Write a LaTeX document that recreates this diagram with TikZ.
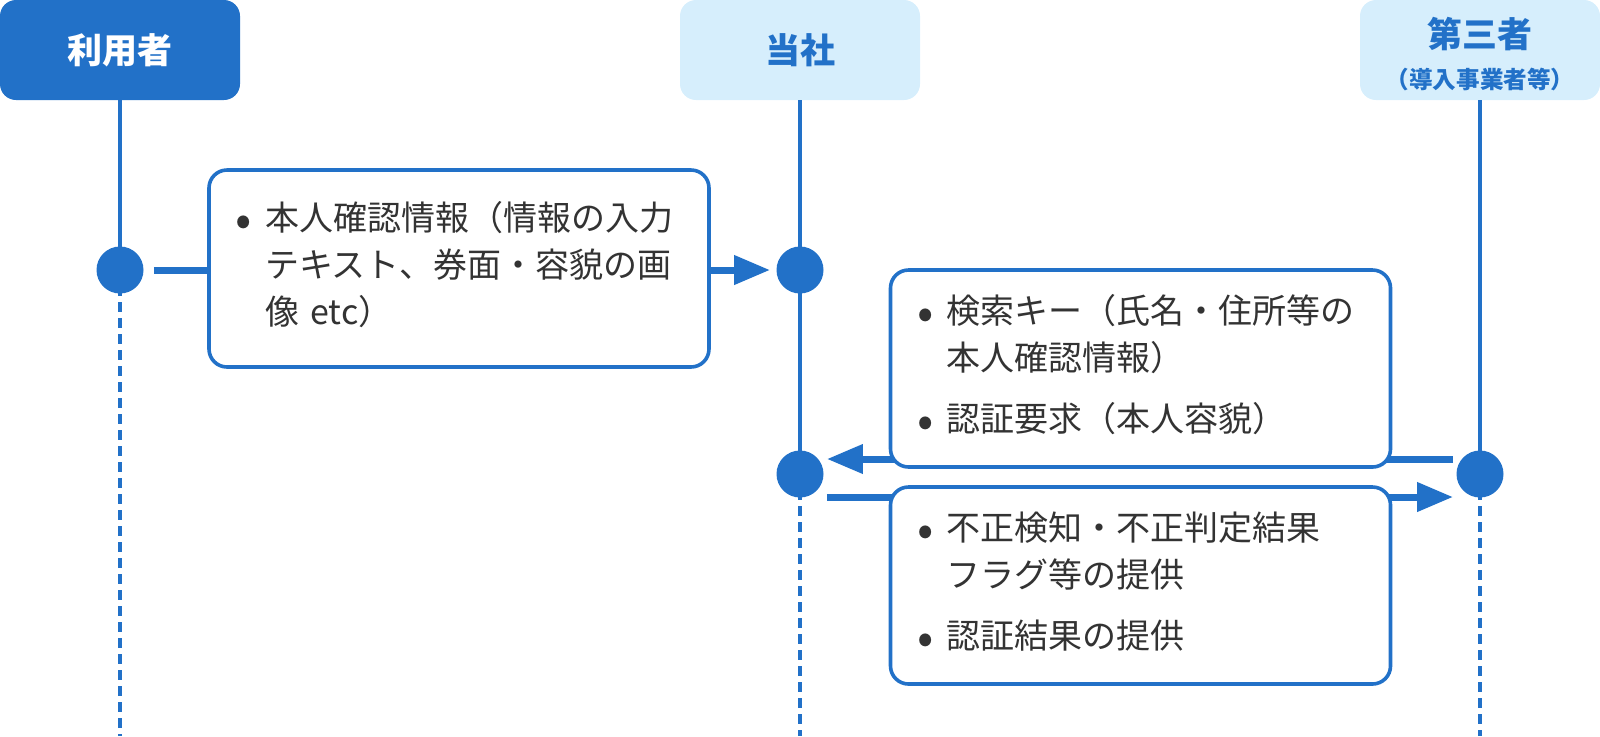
\documentclass[tikz,border=0pt]{standalone}
\usepackage{fontspec}
\setmainfont{Noto Sans CJK JP}
\usetikzlibrary{arrows.meta}

\definecolor{mainblue}{HTML}{2271C8}
\definecolor{paleblue}{HTML}{D6EEFC}
\definecolor{inkgray}{HTML}{333333}

\tikzset{
    actor/.style={rounded corners=8pt, minimum width=120pt, minimum height=50pt,
        inner sep=0pt, align=center, font=\fontsize{17.5}{21}\selectfont\bfseries},
    life/.style={mainblue, line width=2pt},
    lifedash/.style={mainblue, line width=2pt, dash pattern=on 5pt off 3pt},
    dot/.style={circle, fill=mainblue, minimum size=23.5pt, inner sep=0pt},
    msg/.style={mainblue, line width=3.5pt, -{Triangle[length=18pt, width=14pt]}},
    msgbox/.style={draw=mainblue, line width=1.8pt, fill=white, rounded corners=9pt,
        text width=230pt, inner xsep=10pt, minimum height=98.5pt, align=left,
        text=inkgray, font=\fontsize{17}{23.5}\selectfont}
}

\newcommand\bul{\makebox[18pt][l]{\hspace{1.5pt}\makebox[12pt]{\raisebox{-2.9pt}{\fontsize{24}{0}\selectfont •}}}}

\begin{document}
\begin{tikzpicture}[x=0.5pt, y=-0.5pt]

            \def\Xa{120};
            \def\Xb{800};
            \def\Xc{1480};
            \def\Ytop{50};
            \def\Ya{270};
            \def\Yb{474};
            \def\Yend{736};

            \useasboundingbox (0, 0) rectangle (1600, \Yend);

            % headers
            \node[actor, fill=mainblue, text=white] (user) at (\Xa, \Ytop) {利用者};
            \node[actor, fill=paleblue, text=mainblue] (comp) at (\Xb, \Ytop) {当社};
            \node[actor, fill=paleblue, text=mainblue] (third) at (\Xc, \Ytop)
                {\rule{0pt}{19.5pt}第三者\\[-0.5pt]{\fontsize{11.8}{13}\selectfont （導入事業者等）}};

            % dots
            \node[dot] (userdot) at (\Xa, \Ya) {};
            \node[dot] (compdotA) at (\Xb, \Ya) {};
            \node[dot] (compdotB) at (\Xb, \Yb) {};
            \node[dot] (thirddot) at (\Xc, \Yb) {};

            \coordinate (userend) at (\Xa, \Yend);
            \coordinate (compend) at (\Xb, \Yend);
            \coordinate (thirdend) at (\Xc, \Yend);

            % lifelines
            \draw[life] (user.south) -- (userdot.center);
            \draw[life] (comp.south) -- (compdotB.center);
            \draw[life] (third.south) -- (thirddot.center);
            \draw[lifedash] (userdot.center) -- (userend);
            \draw[lifedash] (compdotB.center) -- (compend);
            \draw[lifedash] (thirddot.center) -- (thirdend);

            % arrows
            \draw[msg, shorten <=5pt, shorten >=3pt] (userdot) -- (compdotA);
            \draw[msg, shorten <=1.5pt, shorten >=1.5pt]
                ([yshift=7.5pt]thirddot.west) -- ([yshift=7.5pt]compdotB.east);
            \draw[msg, shorten <=1.5pt, shorten >=1.5pt]
                ([yshift=-11.5pt]compdotB.east) -- ([yshift=-11.5pt]thirddot.west);

            % boxes
            \node[msgbox] (sendbox) at (459, 268.5) {%
                \begin{tabular}{@{}l@{}l@{}}
                \bul & 本人確認情報（情報の入力\\
                     & テキスト、券面・容貌の画\\
                     & 像 etc）
                \end{tabular}};
            \node[msgbox] (askbox) at (1140.5, 368.5) {%
                \begin{tabular}{@{}l@{}l@{}}
                \bul & 検索キー（氏名・住所等の\\
                     & 本人確認情報）\\[7pt]
                \bul & 認証要求（本人容貌）
                \end{tabular}};
            \node[msgbox] (replybox) at (1140.5, 585.5) {%
                \begin{tabular}{@{}l@{}l@{}}
                \bul & 不正検知・不正判定結果\\
                     & フラグ等の提供\\[7pt]
                \bul & 認証結果の提供
                \end{tabular}};
        \end{tikzpicture}
\end{document}
